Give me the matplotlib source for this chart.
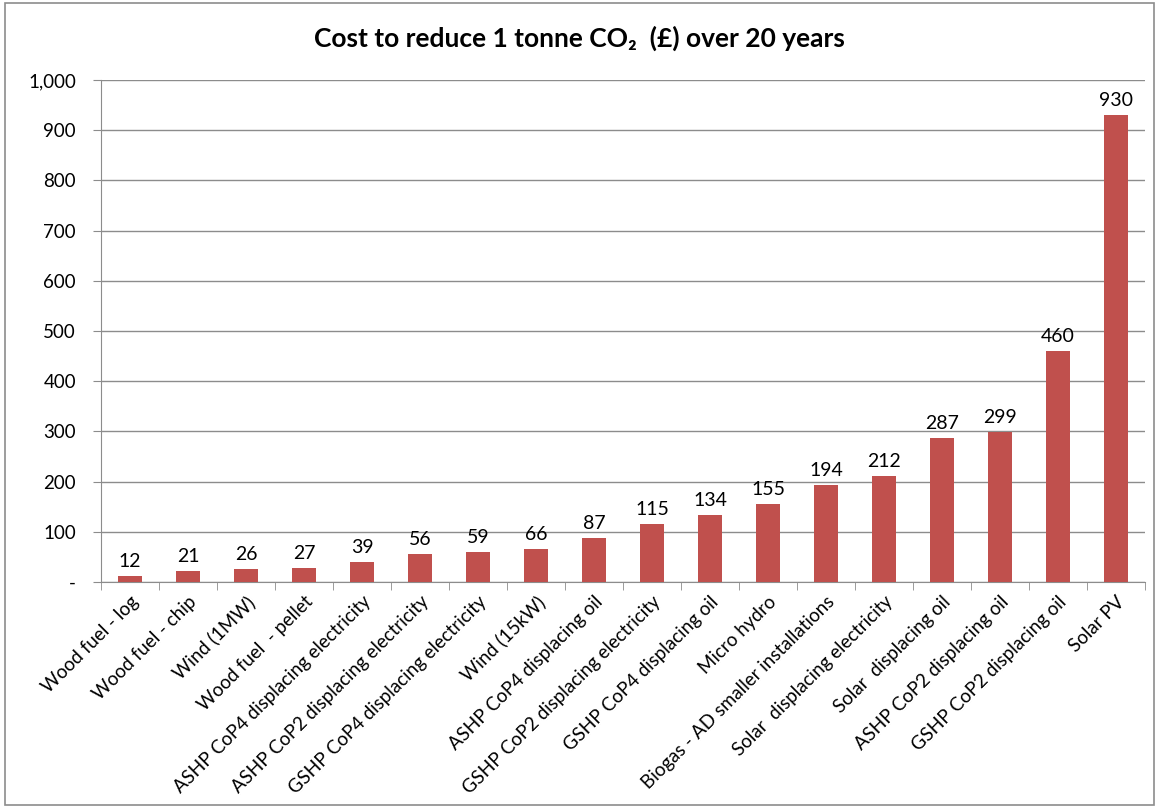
import matplotlib.pyplot as plt
from matplotlib.ticker import FuncFormatter, FixedLocator
from matplotlib.patches import Rectangle

categorias = ['Wood fuel - log', 'Wood fuel - chip', 'Wind (1MW)', 'Wood fuel  - pellet',
              'ASHP CoP4 displacing electricity', 'ASHP CoP2 displacing electricity',
              'GSHP CoP4 displacing electricity', 'Wind (15kW)', 'ASHP CoP4 displacing oil',
              'GSHP CoP2 displacing electricity', 'GSHP CoP4 displacing oil', 'Micro hydro',
              'Biogas - AD smaller installations', 'Solar  displacing electricity',
              'Solar  displacing oil', 'ASHP CoP2 displacing oil', 'GSHP CoP2 displacing oil',
              'Solar PV']
costes = [12, 21, 26, 27, 39, 56, 59, 66, 87, 115, 134, 155, 194, 212, 287, 299, 460, 930]

plt.rcParams['font.family'] = ['Lato', 'DejaVu Sans']

fig = plt.figure(figsize=(11.59, 8.07), dpi=100)
ax = fig.add_axes([0.0871, 0.2788, 0.9009, 0.6221])

x = range(len(categorias))
ax.bar(x, costes, width=0.4, color='#C0504D', zorder=3)
for xi, v in zip(x, costes):
    ax.text(xi, v + 12, str(v), ha='center', va='bottom', fontsize=14, zorder=4)

ax.set_xlim(-0.5, len(categorias) - 0.5)
ax.set_ylim(0, 1000)
ax.set_yticks(range(0, 1001, 100))
ax.yaxis.set_major_formatter(FuncFormatter(lambda v, p: '-' if v == 0 else f'{int(v):,}'))
ax.grid(axis='y', color='#8c8c8c', linewidth=1, zorder=0)

ax.set_xticks(list(x))
ax.set_xticklabels(categorias, rotation=45, ha='right', rotation_mode='anchor', fontsize=13.5)
ax.tick_params(axis='x', length=0, pad=8)
ax.xaxis.set_minor_locator(FixedLocator([i - 0.5 for i in range(len(categorias) + 1)]))
ax.tick_params(axis='x', which='minor', length=6, color='#8c8c8c', direction='out')
ax.tick_params(axis='y', length=6, color='#8c8c8c', labelsize=13.5, pad=12)

for s in ['top', 'right']:
    ax.spines[s].set_visible(False)
for s in ['left', 'bottom']:
    ax.spines[s].set_color('#8c8c8c')

fig.text(0.5, 0.953, 'Cost to reduce 1 tonne CO₂  (£) over 20 years', ha='center', va='center',
         fontsize=19, fontweight='bold')

fig.patches.append(Rectangle((0.004, 0.002), 0.992, 0.994, transform=fig.transFigure,
                             fill=False, edgecolor='#8c8c8c', linewidth=1.2))

fig.savefig('out.png')
